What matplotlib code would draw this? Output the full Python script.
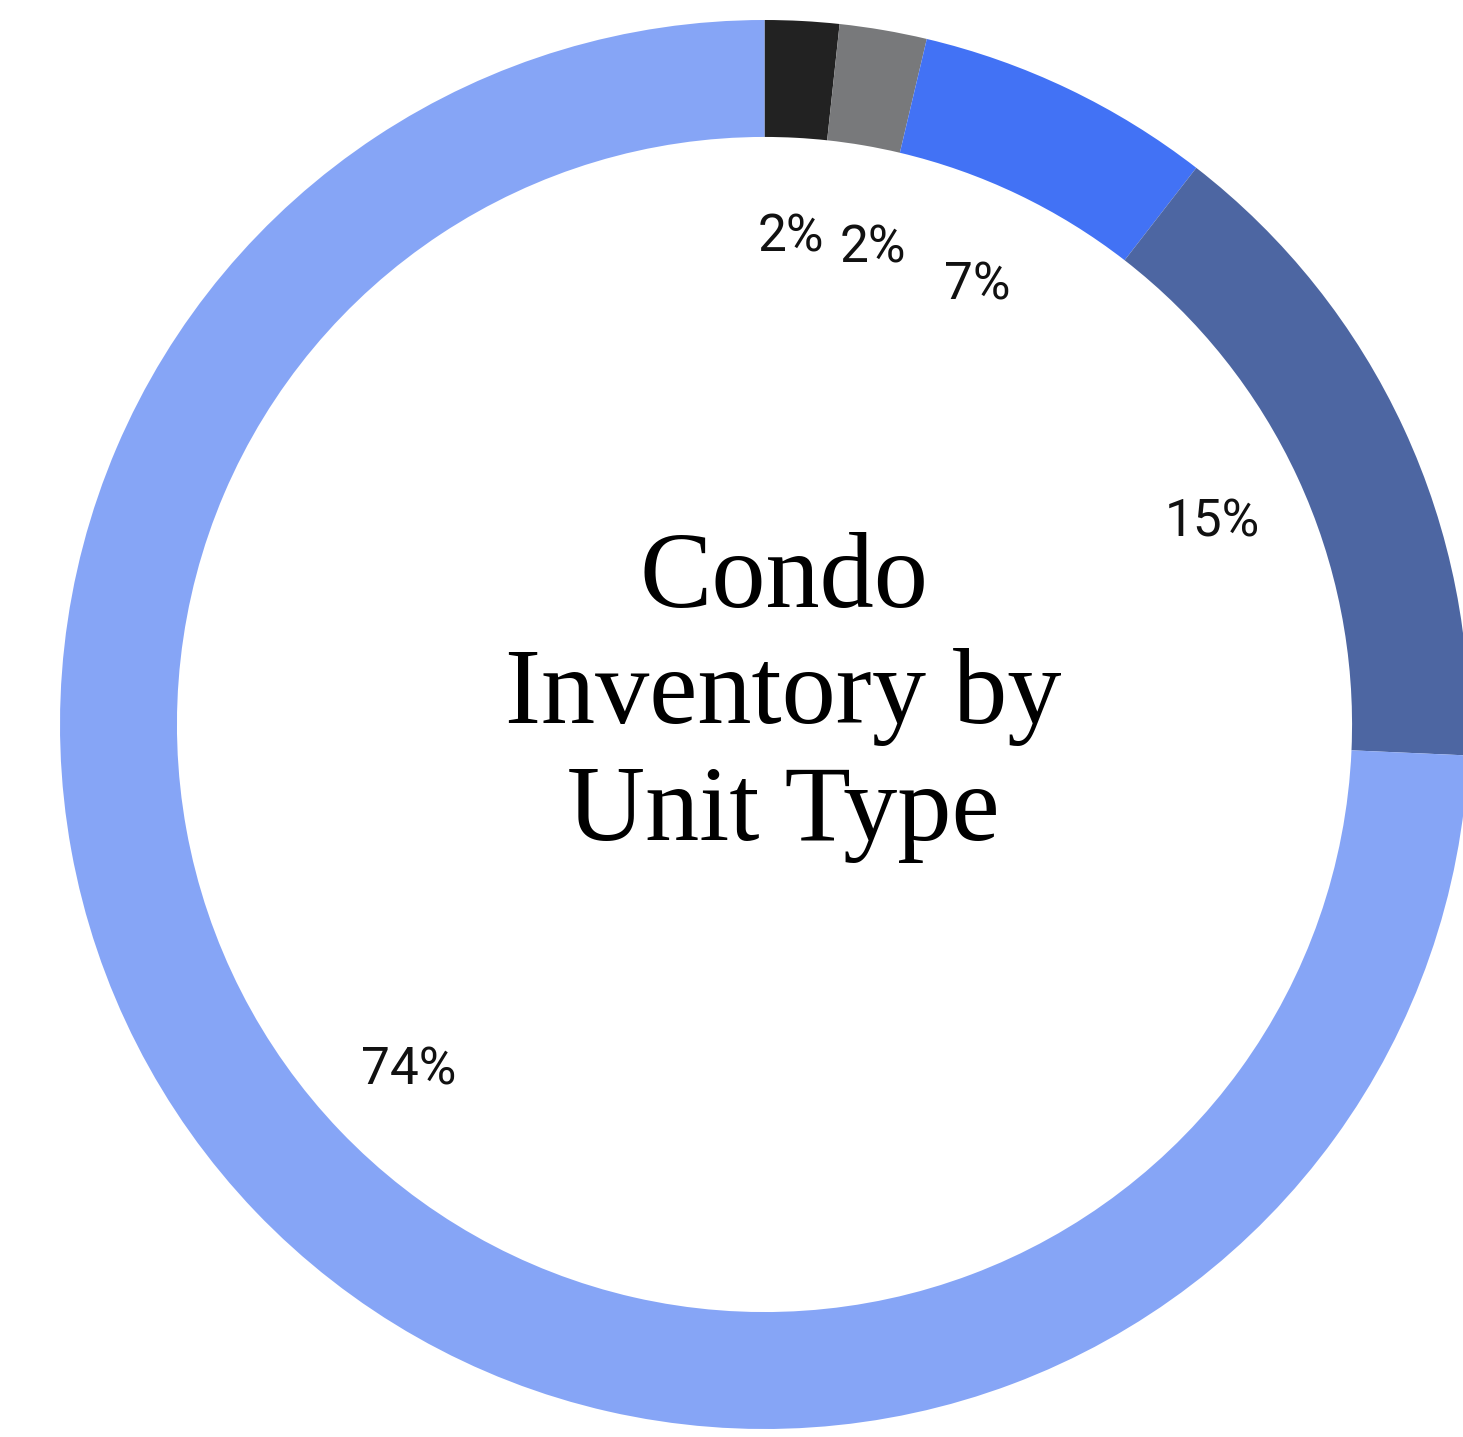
import matplotlib.pyplot as plt
import numpy as np

# доли по типам квартир (в процентах)
unit_types = ["Studio", "Other", "3 Bed", "2 Bed", "1 Bed"]
shares = [1.7, 2.0, 6.8, 15.2, 74.3]
colors = ["#222222", "#78797b", "#4272f5", "#4d66a2", "#86a5f6"]
title_lines = ["Condo", "Inventory by", "Unit Type"]

W, H = 1463, 1437
cx, cy, R = 764.5, 724.5, 704.5

fig = plt.figure(figsize=(W / 100, H / 100), dpi=100)
ax = fig.add_axes([0, 0, 1, 1])

wedges, texts, autotexts = ax.pie(
    shares,
    colors=colors,
    startangle=90,
    counterclock=False,
    radius=1,
    autopct="%.0f%%",
    pctdistance=0.70,
    wedgeprops=dict(width=0.166, edgecolor="none"),
    textprops=dict(fontsize=37, family="Roboto", color="#111111"),
)

# подписи: центрируем по цифрам, маленькие доли немного разводим
for t in autotexts:
    t.set_va("center_baseline")
x0, y0 = autotexts[1].get_position()
a = np.deg2rad(-3.0)
autotexts[1].set_position((x0 * np.cos(a) - y0 * np.sin(a), x0 * np.sin(a) + y0 * np.cos(a)))

# центр кольца смещён, правый край обрезан
ax.set_xlim(-cx / R, (W - cx) / R)
ax.set_ylim(-(H - cy) / R, cy / R)
ax.set_aspect("auto")
ax.axis("off")

# заголовок в центре
step = 116.5 / R
for i, line in enumerate(title_lines):
    ax.text(19 / R, (cy - 607) / R - i * step, line, ha="center", va="baseline",
            fontsize=78, family="Liberation Serif", color="black")

fig.savefig("out.png", dpi=100)
